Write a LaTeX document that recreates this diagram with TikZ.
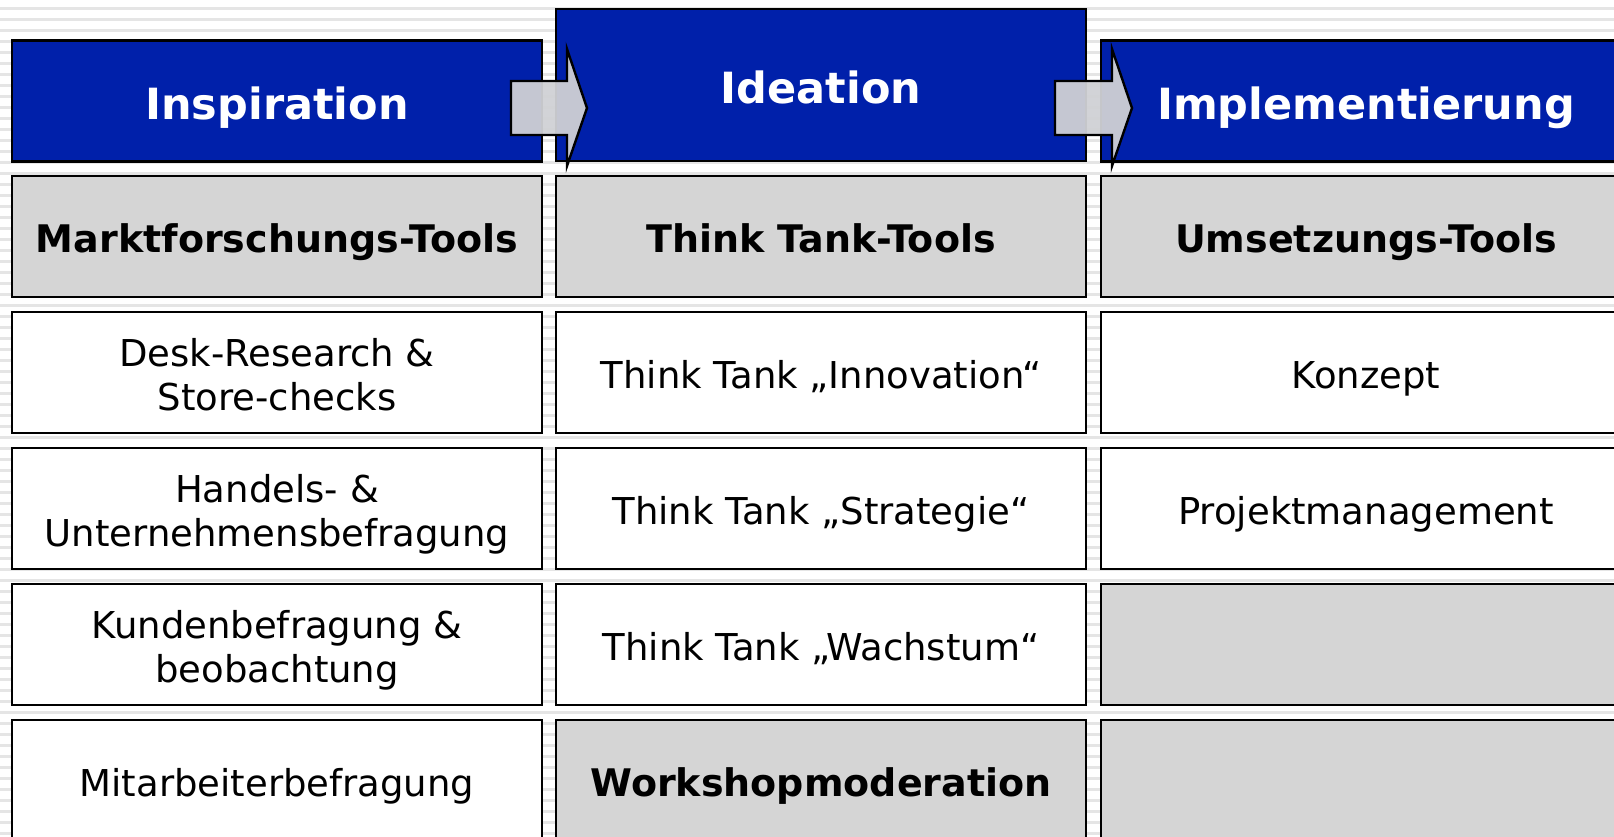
\documentclass[tikz,border=0pt]{standalone}
\usepackage{fontspec}
\setmainfont{DejaVu Sans}
\newcommand{\sv}{\vphantom{Ág}\rule{0pt}{1.07em}}
\newcommand{\sd}{\vphantom{g}}
\begin{document}
\begin{tikzpicture}[x=1pt,y=-1pt,
  cell/.style={draw=black, line width=2.6pt, minimum width=530pt, minimum height=121pt, inner sep=0pt, align=center, font=\fontsize{37}{44}\selectfont},
  whitecell/.style={cell, fill=white},
  graycell/.style={cell, fill=cellgray, font=\fontsize{38}{45}\selectfont\bfseries},
  headcell/.style={cell, fill=headblue, text=white, font=\fontsize{43}{50}\selectfont\bfseries},
  flowarrow/.style={draw=black, line width=2.4pt, fill=arrowgray, fill opacity=0.95, line join=miter}
]
\definecolor{headblue}{RGB}{0,32,170}
\definecolor{cellgray}{RGB}{213,213,213}
\definecolor{arrowgray}{RGB}{208,209,213}
\useasboundingbox (0,0) rectangle (1614,837);
\clip (0,0) rectangle (1614,837);
\fill[white] (0,0) rectangle (1614,837);
\foreach \yy in {7,18,...,840} {\fill[black!10] (0,\yy) rectangle (1614,\yy+3);}
% headers
\node[headcell, minimum height=121pt] (h1) at (277,101) {\sv Inspiration};
\node[headcell, minimum height=152pt] (h2) at (821,85) {\sv Ideation};
\node[headcell, minimum height=121pt] (h3) at (1366,101) {\sv Implementierung};
% row 1
\node[graycell] (a1) at (277,236.5) {\sv Marktforschungs-Tools};
\node[graycell] (b1) at (821,236.5) {\sv Think Tank-Tools};
\node[graycell] (c1) at (1366,236.5) {\sv Umsetzungs-Tools};
% row 2
\node[whitecell] (a2) at (277,372.5) {\sv Desk-Research \&\\\sd Store-checks};
\node[whitecell] (b2) at (821,372.5) {\sv Think Tank „Innovation“};
\node[whitecell] (c2) at (1366,372.5) {\sv Konzept};
% row 3
\node[whitecell] (a3) at (277,508.5) {\sv Handels- \&\\\sd Unternehmensbefragung};
\node[whitecell] (b3) at (821,508.5) {\sv Think Tank „Strategie“};
\node[whitecell] (c3) at (1366,508.5) {\sv Projektmanagement};
% row 4
\node[whitecell] (a4) at (277,644.5) {\sv Kundenbefragung \&\\\sd beobachtung};
\node[whitecell] (b4) at (821,644.5) {\sv Think Tank „Wachstum“};
\node[graycell] (c4) at (1366,644.5) {};
% row 5
\node[whitecell] (a5) at (277,780.5) {\sv Mitarbeiterbefragung};
\node[graycell] (b5) at (821,780.5) {\sv Workshopmoderation};
\node[graycell] (c5) at (1366,780.5) {};
% arrows
\draw[flowarrow] (511,81) -- (567,81) -- (567,49) -- (587,108) -- (567,166) -- (567,135) -- (511,135) -- cycle;
\draw[flowarrow] (1055,81) -- (1112,81) -- (1112,49) -- (1132,108) -- (1112,166) -- (1112,135) -- (1055,135) -- cycle;
\end{tikzpicture}
\end{document}
